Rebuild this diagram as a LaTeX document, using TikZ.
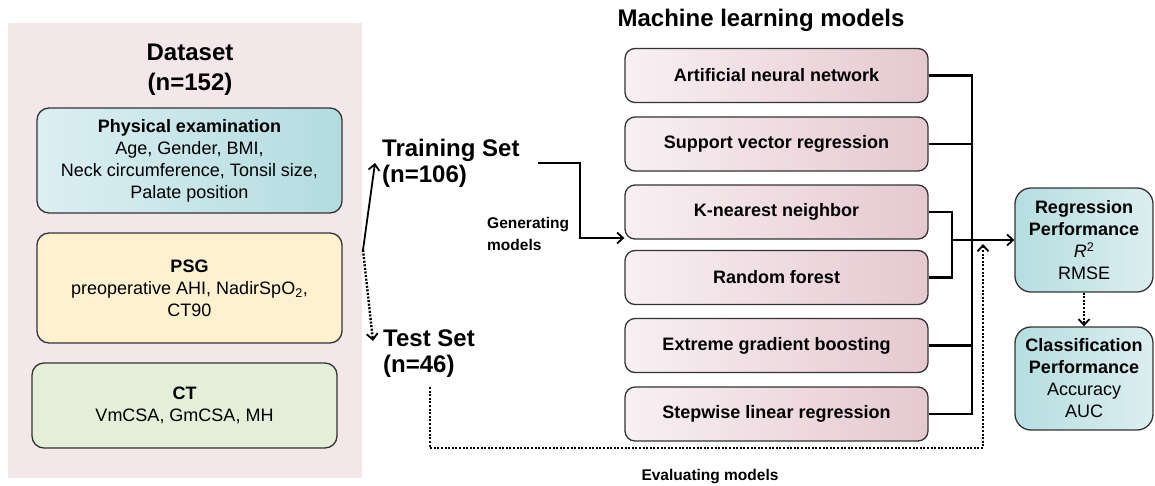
\documentclass[tikz,border=0pt]{standalone}
\usepackage{fontspec}
\setmainfont{Liberation Sans}
\usetikzlibrary{arrows.meta}
\definecolor{panelc}{HTML}{F3E7EA}
\definecolor{physL}{HTML}{DCEFF3}
\definecolor{physR}{HTML}{B2DCDF}
\definecolor{psgc}{HTML}{FEF1D0}
\definecolor{ctc}{HTML}{E3EFD9}
\definecolor{modL}{HTML}{F8F0F2}
\definecolor{modR}{HTML}{E5C8D0}
\definecolor{perfL}{HTML}{B5DEE0}
\definecolor{perfR}{HTML}{DCEEF0}
\definecolor{edge}{HTML}{333333}
\tikzset{
  box/.style={draw=edge, line width=1.3pt, rounded corners=12pt, align=center, inner sep=0pt},
  srcbox/.style={box, minimum width=305pt, font=\fontsize{18}{22}\selectfont},
  modelbox/.style={box, rounded corners=10pt, minimum width=303pt, minimum height=54pt, left color=modL, right color=modR, font=\fontsize{18}{22}\selectfont\bfseries},
  perfbox/.style={box, rounded corners=16pt, minimum width=138pt, left color=perfL, right color=perfR, font=\fontsize{18}{22}\selectfont},
  conn/.style={line width=2.4pt, draw=black},
  dotconn/.style={line width=2.6pt, draw=black, dash pattern=on 2pt off 1.6pt},
  tip/.style={-{Straight Barb[length=6pt,width=11pt,line width=1.8pt]}},
  bigtxt/.style={font=\fontsize{24}{25}\selectfont\bfseries, inner sep=0pt},
  smalltxt/.style={font=\fontsize{15.5}{22}\selectfont\bfseries, inner sep=0pt}
}
\begin{document}
\begin{tikzpicture}[x=1pt,y=-1pt]
\useasboundingbox (0,0) rectangle (1155,485);
\fill[panelc] (8,23) rectangle (362,478);
\node[bigtxt, align=center] (dstitle) at (190,70) {Dataset\\[5pt](n=152)};
\node[srcbox, minimum height=105pt, left color=physL, right color=physR] (phys) at (189.5,160.5)
  {\textbf{Physical examination}\\Age, Gender, BMI,\\Neck circumference, Tonsil size,\\Palate position};
\node[srcbox, minimum height=110pt, fill=psgc] (psg) at (189.5,288)
  {\textbf{PSG}\\preoperative AHI, NadirSpO\textsubscript{2},\\CT90};
\node[srcbox, minimum height=85pt, fill=ctc] (ct) at (184.5,405.5)
  {\textbf{CT}\\VmCSA, GmCSA, MH};

\coordinate (split) at (363,250);
\node[bigtxt, align=left, anchor=west] (train) at (382,150) {Training Set};
\node[bigtxt, align=left, anchor=west] (trainn) at (382,176) {(n=106)};
\node[bigtxt, align=left, anchor=west] (test) at (383,338) {Test Set};
\node[bigtxt, align=left, anchor=west] (testn) at (383,366) {(n=46)};
\coordinate (trtip) at (375,163);
\coordinate (tetip) at (373,341);
\draw[line width=1.8pt, tip] (split) -- (trtip);
\draw[line width=2.4pt, dash pattern=on 2pt off 1.6pt, tip] (split) -- (tetip);

\node[bigtxt] (mltitle) at (761,20) {Machine learning models};
\node[modelbox] (ann) at (776.5,75.5) {Artificial neural network};
\node[modelbox] (svr) at (776.5,144) {Support vector regression};
\node[modelbox] (knn) at (776.5,212) {K-nearest neighbor};
\node[modelbox] (rf)  at (776.5,277.5) {Random forest};
\node[modelbox] (xgb) at (776.5,345.5) {Extreme gradient boosting};
\node[modelbox] (slr) at (776.5,414) {Stepwise linear regression};

\node[smalltxt, align=left, anchor=north west] (gen) at (487,217) {Generating\\models};
\coordinate (trstart) at (538,163);
\draw[conn, line width=2pt, tip] (trstart) -- (580,163) |- (knn.west |- 0,238);

\node[perfbox, minimum height=104pt] (reg) at (1084,240)
  {\textbf{Regression}\\\textbf{Performance}\\\textit{R}\textsuperscript{2}\\RMSE};
\node[perfbox, minimum height=103pt] (cls) at (1084,378.5)
  {\textbf{Classification}\\\textbf{Performance}\\Accuracy\\AUC};

% collectors
\draw[conn] (ann.east) -- (972,75.5) -- (972,414) -- (slr.east);
\draw[conn] (svr.east) -- (972,144);
\draw[conn] (xgb.east) -- (972,345.5);
\draw[conn] (knn.east) -- (952,212) -- (952,277.5) -- (rf.east);
\draw[conn, line width=2.8pt, tip] (952,240) -- (reg.west);

% evaluation
\coordinate (testout) at (430,387);
\coordinate (evtip) at (983,244);
\draw[dotconn, tip] (testout) -- (430,448) -- (983,448) -- (evtip);
\node[smalltxt] (eval) at (710,477) {Evaluating models};

\draw[dotconn, tip] (reg.south) -- (cls.north);
\end{tikzpicture}
\end{document}
